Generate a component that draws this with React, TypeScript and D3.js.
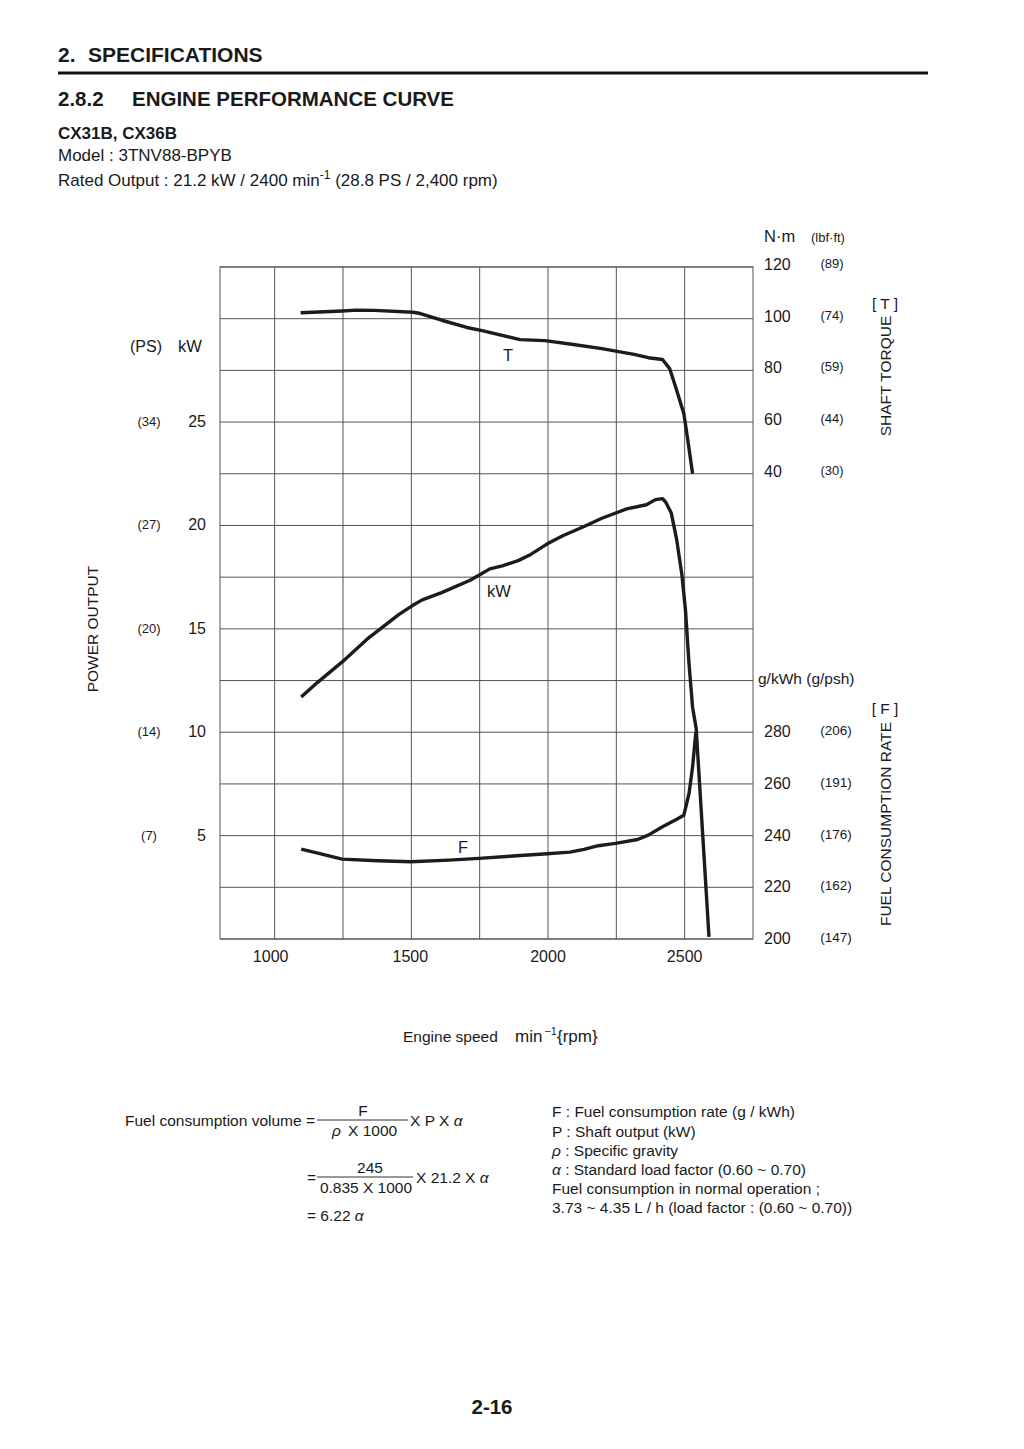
import React from "react";
import * as d3 from "d3";

// ---- data ----
const rpmTicks = [1000, 1500, 2000, 2500];
const rpmGrid = [1000, 1250, 1500, 1750, 2000, 2250, 2500];
const kwTicks = [5, 10, 15, 20, 25];
const psTicks = ["(7)", "(14)", "(20)", "(27)", "(34)"];
const nmTicks = [40, 60, 80, 100, 120];
const lbfTicks = ["(30)", "(44)", "(59)", "(74)", "(89)"];
const fuelTicks = [200, 220, 240, 260, 280];
const gpsTicks = ["(147)", "(162)", "(176)", "(191)", "(206)"];

const torqueRpm = [1095, 1247, 1299, 1364, 1507, 1533, 1611, 1703, 1755, 1898, 1989, 2093, 2197, 2315, 2367, 2419, 2445, 2471, 2497, 2510, 2529];
const torqueNm = [102.3, 103.0, 103.3, 103.2, 102.5, 102.0, 99.4, 96.6, 95.5, 91.9, 91.5, 90.0, 88.4, 86.2, 84.9, 84.2, 80.7, 72.2, 63.2, 54.1, 40.0];

const powerRpm = [1097, 1156, 1247, 1338, 1416, 1455, 1507, 1540, 1611, 1715, 1755, 1787, 1833, 1891, 1937, 1996, 2054, 2132, 2197, 2288, 2360, 2393, 2419, 2432, 2451, 2471, 2490, 2503, 2516, 2529, 2542, 2589];
const powerKw = [11.7, 12.4, 13.4, 14.5, 15.3, 15.7, 16.15, 16.4, 16.75, 17.35, 17.65, 17.9, 18.05, 18.3, 18.6, 19.1, 19.5, 19.95, 20.35, 20.8, 21.0, 21.25, 21.3, 21.1, 20.6, 19.3, 17.6, 15.9, 13.3, 11.2, 10.2, 0.1];

const fuelRpm = [1097, 1169, 1247, 1377, 1498, 1638, 1748, 1872, 1997, 2080, 2132, 2184, 2247, 2328, 2367, 2419, 2471, 2497, 2516, 2529, 2541];
const fuelG = [234.8, 232.9, 230.9, 230.3, 229.9, 230.5, 231.2, 232.1, 233.0, 233.6, 234.7, 236.1, 237.0, 238.5, 240.2, 243.4, 246.3, 247.9, 256.3, 266.6, 280];

const FONT = "'Liberation Sans', Arial, Helvetica, sans-serif";

export default function App() {
  const left = 220, right = 753, top = 267, bottom = 939;
  const x = d3.scaleLinear().domain([800, 2750]).range([left, right]);
  const yKw = d3.scaleLinear().domain([0, 32.5]).range([bottom, top]);
  const yNm = d3.scaleLinear().domain([-140, 120]).range([bottom, top]);
  const yG = d3.scaleLinear().domain([200, 460]).range([bottom, top]);

  const hGrid = d3.range(0, 32.5001, 2.5);
  const mk = (xs: number[], ys: number[]) => xs.map((r, i) => [r, ys[i]] as [number, number]);
  const lineT = d3.line<[number, number]>().x(d => x(d[0])).y(d => yNm(d[1]));
  const lineP = d3.line<[number, number]>().x(d => x(d[0])).y(d => yKw(d[1]));
  const lineF = d3.line<[number, number]>().x(d => x(d[0])).y(d => yG(d[1]));

  const gridColor = "#555";
  const curve = { fill: "none", stroke: "#1c1c1c", strokeWidth: 3.4, strokeLinejoin: "round" as const, strokeLinecap: "butt" as const };
  const fs = 15.5;

  return (
    <svg width={1024} height={1449} style={{ position: "absolute", left: 0, top: 0, background: "#fff" }} fontFamily={FONT} fill="#1a1a1a">
      {/* header */}
      <text x={58} y={62} fontSize={21} fontWeight="bold">2.</text>
      <text x={88} y={62} fontSize={21} fontWeight="bold">SPECIFICATIONS</text>
      <line x1={58} x2={928} y1={73} y2={73} stroke="#111" strokeWidth={3} />
      <text x={58} y={106} fontSize={20.5} fontWeight="bold">2.8.2</text>
      <text x={132} y={106} fontSize={20.5} fontWeight="bold">ENGINE PERFORMANCE CURVE</text>
      <text x={58} y={139} fontSize={17} fontWeight="bold">CX31B, CX36B</text>
      <text x={58} y={161} fontSize={17}>Model : 3TNV88-BPYB</text>
      <text x={58} y={186} fontSize={17}>
        Rated Output : 21.2 kW / 2400 min<tspan dy={-7} fontSize={12}>-1</tspan><tspan dy={7}> (28.8 PS / 2,400 rpm)</tspan>
      </text>

      {/* grid */}
      {hGrid.map((v, i) => (
        <line key={"h" + i} x1={left} x2={right} y1={yKw(v)} y2={yKw(v)} stroke={gridColor} strokeWidth={1} />
      ))}
      {rpmGrid.map((r, i) => (
        <line key={"v" + i} x1={x(r)} x2={x(r)} y1={top} y2={bottom} stroke={gridColor} strokeWidth={1} />
      ))}
      <rect x={left} y={top} width={right - left} height={bottom - top} fill="none" stroke={gridColor} strokeWidth={1} />

      {/* x axis */}
      {rpmTicks.map((r, i) => (
        <text key={"xt" + i} x={x(r) - (r === 1000 ? 4 : r === 1500 ? 1 : 0)} y={962} fontSize={16} textAnchor="middle">{r}</text>
      ))}
      <text x={403} y={1042} fontSize={fs}>Engine speed</text>
      <text x={515} y={1042} fontSize={17}>min<tspan dx={2} dy={-7} fontSize={11}>−1</tspan><tspan dy={7}>{"{rpm}"}</tspan></text>

      {/* left axis */}
      <text x={130} y={352} fontSize={16}>(PS)</text>
      <text x={178} y={352} fontSize={16.5}>kW</text>
      {kwTicks.map((v, i) => (
        <g key={"kw" + i}>
          <text x={206} y={yKw(v) + 5} fontSize={16} textAnchor="end">{v}</text>
          <text x={149} y={yKw(v) + 4} fontSize={13} textAnchor="middle">{psTicks[i]}</text>
        </g>
      ))}
      <text transform={`translate(98,629) rotate(-90)`} fontSize={fs} textAnchor="middle">POWER OUTPUT</text>

      {/* right torque axis */}
      <text x={764} y={242} fontSize={16.5}>N·m</text>
      <text x={811} y={242} fontSize={13}>(lbf·ft)</text>
      {nmTicks.map((v, i) => (
        <g key={"nm" + i}>
          <text x={764} y={yNm(v) + 3} fontSize={16}>{v}</text>
          <text x={832} y={yNm(v) + 1} fontSize={13} textAnchor="middle">{lbfTicks[i]}</text>
        </g>
      ))}
      <text x={885} y={309} fontSize={fs} textAnchor="middle">[ T ]</text>
      <text transform={`translate(891,376) rotate(-90)`} fontSize={fs} textAnchor="middle">SHAFT TORQUE</text>

      {/* right fuel axis */}
      <text x={758} y={684} fontSize={fs}>g/kWh (g/psh)</text>
      {fuelTicks.map((v, i) => (
        <g key={"f" + i}>
          <text x={764} y={yG(v) + 5} fontSize={16}>{v}</text>
          <text x={836} y={yG(v) + 3} fontSize={13.5} textAnchor="middle">{gpsTicks[i]}</text>
        </g>
      ))}
      <text x={885} y={714} fontSize={fs} textAnchor="middle">[ F ]</text>
      <text transform={`translate(891,824) rotate(-90)`} fontSize={fs} textAnchor="middle">FUEL CONSUMPTION RATE</text>

      {/* curves */}
      <path d={lineT(mk(torqueRpm, torqueNm)) || ""} {...curve} />
      <path d={lineP(mk(powerRpm, powerKw)) || ""} {...curve} />
      <path d={lineF(mk(fuelRpm, fuelG)) || ""} {...curve} />
      <text x={508} y={361} fontSize={16.5} textAnchor="middle">T</text>
      <text x={499} y={597} fontSize={16.5} textAnchor="middle">kW</text>
      <text x={463} y={853} fontSize={16.5} textAnchor="middle">F</text>

      {/* formula */}
      <text x={125} y={1126} fontSize={fs}>Fuel consumption volume =</text>
      <line x1={317} x2={408} y1={1120} y2={1120} stroke="#333" strokeWidth={1} />
      <text x={363} y={1116} fontSize={fs} textAnchor="middle">F</text>
      <text x={332} y={1136} fontSize={fs} fontStyle="italic">ρ</text>
      <text x={348} y={1136} fontSize={fs}>X 1000</text>
      <text x={410} y={1126} fontSize={fs}>X P X <tspan fontStyle="italic">α</tspan></text>

      <text x={307} y={1183} fontSize={fs}>=</text>
      <line x1={317} x2={413} y1={1177} y2={1177} stroke="#333" strokeWidth={1} />
      <text x={370} y={1173} fontSize={fs} textAnchor="middle">245</text>
      <text x={366} y={1193} fontSize={fs} textAnchor="middle">0.835 X 1000</text>
      <text x={416} y={1183} fontSize={fs}>X 21.2 X <tspan fontStyle="italic">α</tspan></text>

      <text x={307} y={1221} fontSize={fs}>= 6.22 <tspan fontStyle="italic">α</tspan></text>

      <text x={552} y={1117} fontSize={fs}>F : Fuel consumption rate (g / kWh)</text>
      <text x={552} y={1137} fontSize={fs}>P : Shaft output (kW)</text>
      <text x={552} y={1156} fontSize={fs}><tspan fontStyle="italic">ρ</tspan> : Specific gravity</text>
      <text x={552} y={1175} fontSize={fs}><tspan fontStyle="italic">α</tspan> : Standard load factor (0.60 ~ 0.70)</text>
      <text x={552} y={1194} fontSize={fs}>Fuel consumption in normal operation ;</text>
      <text x={552} y={1213} fontSize={fs}>3.73 ~ 4.35 L / h (load factor : (0.60 ~ 0.70))</text>

      <text x={492} y={1414} fontSize={20.5} fontWeight="bold" textAnchor="middle">2-16</text>
    </svg>
  );
}
